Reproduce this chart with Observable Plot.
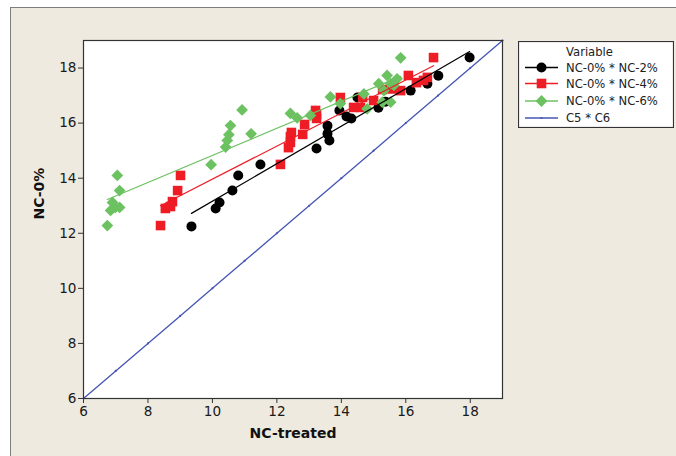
<!DOCTYPE html>
<html>
<head>
<meta charset="utf-8">
<script src="https://cdn.jsdelivr.net/npm/d3@7"></script>
<script src="https://cdn.jsdelivr.net/npm/@observablehq/plot@0.6"></script>
<style>
  html, body { margin: 0; padding: 0; background: #ffffff; }
  #wrap { position: relative; width: 676px; height: 456px; overflow: hidden; background: #ffffff; }
  #bg { position: absolute; left: 10px; top: 7px; width: 700px; height: 500px; background: #eeeae0; border-left: 1px solid #7d7d7d; border-top: 1px solid #7d7d7d; }
  #chart { position: absolute; left: 0; top: 0; }
  #legend { position: absolute; left: 518px; top: 41px; }
</style>
</head>
<body>
<div id="wrap"><div id="bg"></div><div id="chart"></div><div id="legend"></div></div>
<script>
// ---- data ----
const xTicks = [6, 8, 10, 12, 14, 16, 18];
const yTicks = [6, 8, 10, 12, 14, 16, 18];

const nc2X = [9.35,10.10,10.22,10.62,10.80,11.49,13.23,13.57,13.57,13.63,13.94,14.16,14.31,14.50,15.15,15.37,16.15,16.67,17.01,17.98];
const nc2Y = [12.25,12.90,13.12,13.55,14.10,14.50,15.08,15.90,15.61,15.37,16.46,16.24,16.17,16.93,16.56,16.78,17.18,17.43,17.72,18.38];

const nc4X = [8.39,8.54,8.70,8.76,8.92,9.01,12.11,12.36,12.42,12.42,12.45,12.80,12.86,13.20,13.23,13.23,13.97,14.38,14.59,14.66,15.00,15.28,15.58,15.84,16.08,16.33,16.55,16.67,16.86];
const nc4Y = [12.28,12.90,12.97,13.15,13.55,14.10,14.50,15.11,15.30,15.51,15.66,15.59,15.95,16.46,16.32,16.17,16.93,16.57,16.57,16.93,16.82,17.22,17.24,17.18,17.73,17.47,17.55,17.66,18.38];

const nc6X = [6.74,6.84,6.99,7.12,6.90,7.12,7.05,9.96,10.41,10.46,10.51,10.56,10.92,11.20,12.42,12.63,13.04,13.66,13.97,14.80,14.70,15.16,15.32,15.42,15.53,15.73,15.27,15.53,15.84,15.63];
const nc6Y = [12.28,12.83,12.94,12.94,13.12,13.55,14.10,14.49,15.13,15.37,15.58,15.91,16.48,15.61,16.35,16.19,16.28,16.95,16.71,16.52,17.06,17.43,17.18,17.73,17.43,17.61,16.76,16.76,18.37,17.37];

const c5 = [6,7,8,9,10,11,12,13,14,15,16,17,18,19];
const c6 = [6,7,8,9,10,11,12,13,14,15,16,17,18,19];

const seriesNames = ["NC-0% * NC-2%", "NC-0% * NC-4%", "NC-0% * NC-6%", "C5 * C6"];
const seriesColors = ["#000000", "#ee1c25", "#6cc161", "#4455b5"];
const seriesSymbols = ["circle", "square", "diamond2", null];
const legendTitle = "Variable";
const xLabel = "NC-treated";
const yLabel = "NC-0%";

// ---- build tables ----
const zip = (xs, ys) => xs.map((x, i) => ({x, y: ys[i]}));
const s2 = zip(nc2X, nc2Y), s4 = zip(nc4X, nc4Y), s6 = zip(nc6X, nc6Y), ref = zip(c5, c6);

const chart = Plot.plot({
  width: 676, height: 456,
  marginLeft: 83, marginRight: 174, marginTop: 40, marginBottom: 58,
  x: {domain: [6, 19]},
  y: {domain: [6, 19]},
  style: {background: "transparent", fontFamily: "DejaVu Sans", fontSize: "13.6px", color: "#1a1a1a"},
  marks: [
    Plot.frame({fill: "#ffffff", stroke: "none"}),
    Plot.axisX({ticks: xTicks, tickSize: 5, tickPadding: 3, label: null, stroke: "#333"}),
    Plot.axisY({ticks: yTicks, tickSize: 5, tickPadding: 2, label: null, stroke: "#333"}),
    Plot.line(ref, {x: "x", y: "y", stroke: seriesColors[3], strokeWidth: 1.3}),
    Plot.dot(ref, {x: "x", y: "y", r: 1.1, fill: seriesColors[3]}),
    Plot.dot(s2, {x: "x", y: "y", r: 5, symbol: "circle", fill: seriesColors[0], stroke: "none"}),
    Plot.dot(s4, {x: "x", y: "y", r: 5.4, symbol: "square", fill: seriesColors[1], stroke: "none"}),
    Plot.dot(s6, {x: "x", y: "y", r: 5.3, symbol: "diamond2", fill: seriesColors[2], stroke: "none"}),
    Plot.linearRegressionY(s2, {x: "x", y: "y", stroke: seriesColors[0], strokeWidth: 1.2, ci: 0}),
    Plot.linearRegressionY(s4, {x: "x", y: "y", stroke: seriesColors[1], strokeWidth: 1.2, ci: 0}),
    Plot.linearRegressionY(s6, {x: "x", y: "y", stroke: seriesColors[2], strokeWidth: 1.2, ci: 0}),
    Plot.frame({stroke: "#333", strokeWidth: 1.2}),
    Plot.text([xLabel], {frameAnchor: "bottom", dy: 39, fontWeight: "bold", fontSize: 14, fill: "#111"}),
    Plot.text([yLabel], {frameAnchor: "left", dx: -44, rotate: -90, fontWeight: "bold", fontSize: 14, fill: "#111"})
  ]
});
document.getElementById("chart").appendChild(chart);

// ---- legend ----
const lw = 156, lh = 87;
const lsvg = d3.select("#legend").append("svg").attr("width", lw).attr("height", lh)
  .style("font-family", "DejaVu Sans").style("font-size", "11.6px");
lsvg.append("rect").attr("x", 0.5).attr("y", 0.5).attr("width", lw - 1).attr("height", lh - 1)
  .attr("fill", "#ffffff").attr("stroke", "#333").attr("stroke-width", 1.2);
lsvg.append("text").attr("x", 48).attr("y", 11).attr("dy", "0.35em").attr("fill", "#222").text(legendTitle);
const symMap = {circle: d3.symbolCircle, square: d3.symbolSquare, diamond2: d3.symbolDiamond2};
const symSize = [Math.PI * 25, Math.PI * 5.4 * 5.4, Math.PI * 5.3 * 5.3];
const rowY = [26.5, 42.5, 60, 77];
seriesNames.forEach((name, i) => {
  const g = lsvg.append("g").attr("transform", `translate(0,${rowY[i]})`);
  g.append("line").attr("x1", 7).attr("x2", 40).attr("y1", 0).attr("y2", 0)
    .attr("stroke", seriesColors[i]).attr("stroke-width", 1.3);
  if (seriesSymbols[i]) {
    g.append("path").attr("transform", "translate(23.5,0)")
      .attr("d", d3.symbol(symMap[seriesSymbols[i]], symSize[i])())
      .attr("fill", seriesColors[i]);
  } else {
    g.append("circle").attr("cx", 23.5).attr("cy", 0).attr("r", 1).attr("fill", seriesColors[i]);
  }
  g.append("text").attr("x", 48).attr("y", 0).attr("dy", "0.35em").attr("fill", "#222").text(name);
});
</script>
</body>
</html>
